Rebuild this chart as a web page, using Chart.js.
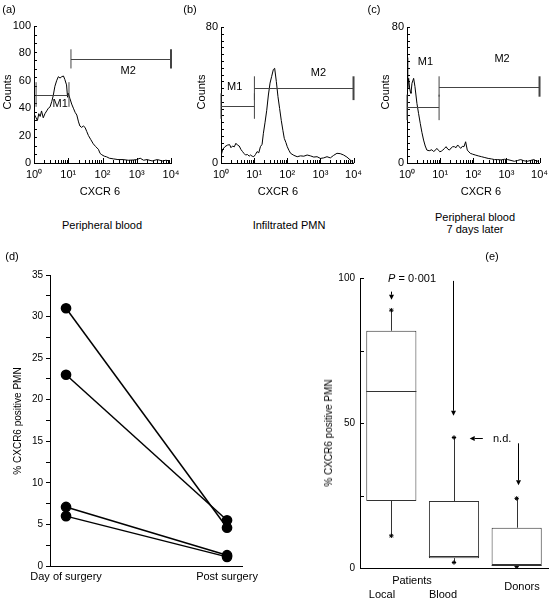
<!DOCTYPE html>
<html>
<head>
<meta charset="utf-8">
<script src="https://cdn.jsdelivr.net/npm/chart.js@4.4.1/dist/chart.umd.min.js"></script>
<style>
body{margin:0;background:#fff;width:553px;height:601px;overflow:hidden;position:relative;font-family:"Liberation Sans",Arial,sans-serif;color:#000}
canvas{position:absolute}
.t{position:absolute;font-size:11px;white-space:nowrap;line-height:1}
.c{transform:translate(-50%,-50%)}
.l{transform:translate(0,-50%)}
.r{transform:translate(-50%,-50%) rotate(-90deg)}
</style>
</head>
<body>
<canvas id="ca" width="185" height="200" style="left:0;top:0"></canvas>
<canvas id="cb" width="182" height="200" style="left:185px;top:0"></canvas>
<canvas id="cc" width="186" height="200" style="left:367px;top:0"></canvas>
<canvas id="cd" width="270" height="341" style="left:0;top:260px"></canvas>
<canvas id="ce" width="273" height="341" style="left:280px;top:260px"></canvas>

<div class="t c" style="left:9px;top:9px">(a)</div>
<div class="t c" style="left:190px;top:9px">(b)</div>
<div class="t c" style="left:374px;top:9px">(c)</div>
<div class="t r" style="left:7px;top:92px">Counts</div>
<div class="t r" style="left:201px;top:92px">Counts</div>
<div class="t r" style="left:385px;top:92px">Counts</div>
<div class="t c" style="left:100px;top:191px">CXCR 6</div>
<div class="t c" style="left:278px;top:191px">CXCR 6</div>
<div class="t c" style="left:481px;top:191px">CXCR 6</div>
<div class="t c" style="left:102px;top:225px">Peripheral blood</div>
<div class="t c" style="left:289px;top:225px">Infiltrated PMN</div>
<div class="t c" style="left:475px;top:217px">Peripheral blood</div>
<div class="t c" style="left:475px;top:229px">7 days later</div>

<div class="t c" style="left:12px;top:256px">(d)</div>
<div class="t r" style="left:18px;top:421px;font-size:10px">% CXCR6 positive PMN</div>

<div class="t c" style="left:492px;top:256px">(e)</div>
<div class="t r" style="left:329px;top:433px;font-size:10px">% CXCR6 positive PMN</div>
<div class="t l" style="left:388px;top:278px"><i>P</i> = 0·001</div>
<div class="t l" style="left:493px;top:438px">n.d.</div>
<div class="t c" style="left:412px;top:580px">Patients</div>
<div class="t c" style="left:382px;top:594px">Local</div>
<div class="t c" style="left:443px;top:594px">Blood</div>
<div class="t c" style="left:522px;top:586px">Donors</div>

<script>
// (a) peripheral blood histogram: x as log10 of CXCR6 intensity
const aLogX = [0.02,0.06,0.1,0.14,0.18,0.22,0.27,0.32,0.37,0.42,0.47,0.52,0.56,0.61,0.66,0.71,0.76,0.81,0.86,0.9,0.95,0.98,1.0,1.05,1.1,1.15,1.2,1.25,1.3,1.34,1.39,1.44,1.49,1.54,1.59,1.66,1.73,1.8,1.88,1.93,1.98,2.05,2.12,2.2,2.32,2.45,2.6,2.75,2.9,3.0,3.1,3.2,3.3,3.45,3.6,3.75,3.85,3.97]
const aCounts = [35,33,31,36,34,38,33,36,38,40,41,45,49,56,60,63,62,63,63.5,61,57,48,51,47,43,40,37,35,30,27,26,27,26,23,20,17,14,12,10,7,6,5,4.5,3.5,3,2.5,2.5,2,2.2,2.5,3.5,2,2.5,1.5,2.5,1.5,2,1.5]
const aGates = [
  {name:'M1', from:1.15, to:10.5, level:50, half:9, labelX:5.8, labelY:43},
  {name:'M2', from:12, to:10000, level:76, half:7, labelX:560, labelY:67}
]

// (b) infiltrated PMN
const bLogX = [0.0,0.05,0.12,0.19,0.26,0.3,0.35,0.4,0.45,0.5,0.55,0.6,0.65,0.7,0.74,0.8,0.85,0.89,0.94,0.99,1.04,1.09,1.14,1.19,1.24,1.28,1.33,1.38,1.43,1.48,1.53,1.58,1.62,1.67,1.72,1.77,1.82,1.87,1.91,1.96,2.0,2.05,2.1,2.2,2.3,2.4,2.5,2.6,2.7,2.8,2.9,3.0,3.1,3.2,3.3,3.4,3.5,3.6,3.7,3.8,3.9,4.0]
const bCounts = [4,8,9.6,10.5,10.8,9,10,9.5,11.6,10.5,10,8,6.7,5.5,4.7,5,4,4.7,4,3.7,5,6.7,6,9.6,11,17.5,24,31,40,47,51,55,55.7,48,39,32,25,19,14.5,12,9.6,7.5,5.7,4.5,3.7,4.2,4,4.7,4.2,3.5,3.7,2.7,3,3.7,3,4.5,5.7,5.5,4.7,3.5,1.8,0.3]
const bGates = [
  {name:'M1', from:1, to:10.2, level:33.5, half:7.5, labelX:2.6, labelY:45},
  {name:'M2', from:10.2, to:10000, level:44, half:7, labelX:870, labelY:53}
]

// (c) peripheral blood 7 days later
const cLogX = [0.0,0.02,0.05,0.08,0.1,0.12,0.15,0.2,0.24,0.3,0.35,0.4,0.45,0.5,0.55,0.6,0.67,0.75,0.8,0.84,0.9,0.95,0.99,1.04,1.08,1.13,1.18,1.23,1.28,1.33,1.38,1.43,1.48,1.53,1.58,1.62,1.67,1.72,1.77,1.82,1.87,1.91,1.98,2.06,2.15,2.25,2.35,2.45,2.55,2.64,2.74,2.84,2.94,3.04,3.14,3.24,3.34,3.43,3.53,3.63,3.73,3.83,3.9,3.98]
const cCounts = [62,44,49.8,44,42,41,46.9,49.8,45,35,29,23.3,18,13.5,10,7.6,7.2,7.8,6.8,7.2,8.6,7.5,6.6,7,7.6,8.5,9.6,8.2,7.6,8.8,9.6,9.6,9,10.6,9.5,8.6,9.8,9.6,12.5,7.6,6.5,5.7,5.2,4.7,4.2,3.7,3.2,2.7,2.4,2,2,1.8,2.2,2,1.5,1,1.5,2,1.3,1,1.5,2,1.2,1]
const cGates = [
  {name:'M1', from:1, to:9.3, level:32.7, half:7.5, labelX:3.6, labelY:59.6},
  {name:'M2', from:9.3, to:10000, level:45, half:6, labelX:740, labelY:61}
]

// (d) paired patients
const surgeryCats = ['Day of surgery', 'Post surgery']
const daySurgery = [31, 23, 7.1, 6.0]
const postSurgery = [4.6, 5.5, 1.3, 1.1]

// (e) box plots
const boxGroups = ['Local', 'Blood', 'Donors']
const boxLow = [11.1, 1.9, 0.5]
const boxQ1 = [23.1, 3.4, 1.0]
const boxMedian = [61, 4.0, 1.1]
const boxQ3 = [81.8, 23.1, 13.9]
const boxHigh = [88.9, 45, 24]
const boxMean = [54.7, 12.9, 6.5]
const downArrows = [{x:0, from:95.3, to:92.5}, {x:0.99, from:99, to:52.5}, {x:2.02, from:43, to:28.5}]
const ndArrow = {y:44.7, from:1.46, to:1.25}

Chart.defaults.font.family = '"Liberation Sans", Arial, sans-serif'
Chart.defaults.font.size = 11
Chart.defaults.color = '#000'

const sup = ['\u2070', '\u00b9', '\u00b2', '\u00b3', '\u2074']

const histExtras = {
  id: 'histExtras',
  afterDraw(chart, args, o) {
    const ctx = chart.ctx, xs = chart.scales.x, ys = chart.scales.y, a = chart.chartArea
    ctx.save()
    ctx.strokeStyle = '#000'
    ctx.lineWidth = 1
    ctx.beginPath()
    for (let d = 0; d <= 4; d++) {
      for (let m = 1; m <= 9; m++) {
        if (d === 4 && m > 1) break
        const px = Math.round(xs.getPixelForValue(m * Math.pow(10, d))) + 0.5
        const len = m === 1 ? 5 : 3
        ctx.moveTo(px, a.bottom)
        ctx.lineTo(px, a.bottom - len)
      }
    }
    for (let v = 0; v <= ys.max + 0.01; v += o.yStep) {
      const py = Math.round(ys.getPixelForValue(v)) + 0.5
      ctx.moveTo(a.left, py)
      ctx.lineTo(a.left + 3, py)
    }
    ctx.stroke()
    ctx.strokeStyle = '#444'
    ctx.fillStyle = '#000'
    ctx.font = '11px "Liberation Sans", Arial, sans-serif'
    ctx.textAlign = 'center'
    ctx.textBaseline = 'middle'
    o.gates.forEach(g => {
      const x1 = xs.getPixelForValue(g.from), x2 = xs.getPixelForValue(g.to)
      const yl = Math.round(ys.getPixelForValue(g.level)) + 0.5
      const yt = ys.getPixelForValue(g.level + g.half), yb = ys.getPixelForValue(g.level - g.half)
      ctx.lineWidth = 1
      ctx.beginPath()
      ctx.moveTo(x1, yl); ctx.lineTo(x2, yl)
      ctx.moveTo(x1, yt); ctx.lineTo(x1, yb)
      ctx.stroke()
      ctx.lineWidth = g.to >= 10000 ? 2 : 1
      ctx.beginPath()
      ctx.moveTo(x2, yt); ctx.lineTo(x2, yb)
      ctx.stroke()
      ctx.fillText(g.name, xs.getPixelForValue(g.labelX), ys.getPixelForValue(g.labelY))
    })
    ctx.restore()
  }
}

function makeHist(id, logX, counts, yMax, yLabels, yStep, gates, yWidth, padTop, padRight, xHeight) {
  const pts = logX.map((lx, i) => ({x: Math.pow(10, lx), y: counts[i]}))
  return new Chart(document.getElementById(id), {
    type: 'line',
    data: {datasets: [{data: pts, borderColor: '#000', borderWidth: 1, pointRadius: 0, tension: 0, fill: false}]},
    options: {
      responsive: false, animation: false, devicePixelRatio: 1, events: [],
      layout: {padding: {top: padTop, right: padRight, left: 0, bottom: 0}},
      plugins: {legend: {display: false}, tooltip: {enabled: false}, histExtras: {yStep: yStep, gates: gates}},
      scales: {
        x: {
          type: 'logarithmic', min: 1, max: 10000,
          afterBuildTicks: s => { s.ticks = [1, 10, 100, 1000, 10000].map(v => ({value: v})) },
          ticks: {callback: v => '10' + sup[Math.round(Math.log10(v))], padding: 5, maxRotation: 0, autoSkip: false},
          grid: {drawOnChartArea: false, drawTicks: false, color: '#000'},
          border: {color: '#000'},
          afterFit: s => { s.height = xHeight }
        },
        y: {
          min: 0, max: yMax,
          afterBuildTicks: s => { s.ticks = yLabels.map(v => ({value: v})) },
          ticks: {padding: 3},
          grid: {drawOnChartArea: false, drawTicks: false, color: '#000'},
          border: {color: '#000'},
          afterFit: s => { s.width = yWidth }
        }
      }
    },
    plugins: [histExtras]
  })
}

makeHist('ca', aLogX, aCounts, 100, [0, 20, 40, 60, 80, 100], 6.25, aGates, 34, 26, 14, 37)
makeHist('cb', bLogX, bCounts, 80, [0, 80], 4, bGates, 36, 27, 10, 37)
makeHist('cc', cLogX, cCounts, 80, [0, 80], 4, cGates, 40, 27, 9, 37)

// (d)
new Chart(document.getElementById('cd'), {
  type: 'line',
  data: {
    datasets: daySurgery.map((v, i) => ({
      data: [{x: 0, y: v}, {x: 1, y: postSurgery[i]}],
      borderColor: '#000', backgroundColor: '#000', borderWidth: 1.5,
      pointRadius: 4.6, pointHoverRadius: 4.6
    }))
  },
  options: {
    responsive: false, animation: false, devicePixelRatio: 1, events: [],
    layout: {padding: {top: 15, right: 28, left: 0, bottom: 0}},
    plugins: {legend: {display: false}, tooltip: {enabled: false}},
    scales: {
      x: {
        type: 'linear', min: -0.0996, max: 1.093,
        afterBuildTicks: s => { s.ticks = [{value: 0}, {value: 1}] },
        ticks: {callback: v => surgeryCats[v], padding: 4, maxRotation: 0, autoSkip: false},
        grid: {drawOnChartArea: false, drawTicks: false, color: '#000'},
        border: {color: '#000'},
        afterFit: s => { s.height = 35 }
      },
      y: {
        min: 0, max: 35,
        ticks: {stepSize: 2.5, callback: v => (v % 5 === 0 ? v : ''), padding: 3, font: {size: 10}},
        grid: {drawOnChartArea: false, tickLength: 4, color: '#000'},
        border: {color: '#000'},
        afterFit: s => { s.width = 50 }
      }
    }
  }
})

// (e)
function arrow(ctx, x1, y1, x2, y2) {
  const ang = Math.atan2(y2 - y1, x2 - x1), L = 5, W = 2.5
  ctx.beginPath()
  ctx.moveTo(x1, y1)
  ctx.lineTo(x2 - L * Math.cos(ang), y2 - L * Math.sin(ang))
  ctx.stroke()
  ctx.beginPath()
  ctx.moveTo(x2, y2)
  ctx.lineTo(x2 - L * Math.cos(ang) - W * Math.sin(ang), y2 - L * Math.sin(ang) + W * Math.cos(ang))
  ctx.lineTo(x2 - L * Math.cos(ang) + W * Math.sin(ang), y2 - L * Math.sin(ang) - W * Math.cos(ang))
  ctx.closePath()
  ctx.fill()
}

const boxExtras = {
  id: 'boxExtras',
  beforeDatasetsDraw(chart) {
    const ctx = chart.ctx, xs = chart.scales.x, ys = chart.scales.y
    ctx.save()
    ctx.strokeStyle = '#333'
    ctx.lineWidth = 1
    ctx.beginPath()
    boxGroups.forEach((g, i) => {
      const px = Math.round(xs.getPixelForValue(i)) + 0.5
      ctx.moveTo(px, ys.getPixelForValue(boxQ3[i])); ctx.lineTo(px, ys.getPixelForValue(boxHigh[i]))
      ctx.moveTo(px, ys.getPixelForValue(boxQ1[i])); ctx.lineTo(px, ys.getPixelForValue(boxLow[i]))
    })
    ctx.stroke()
    ctx.restore()
  },
  afterDatasetsDraw(chart) {
    const ctx = chart.ctx, ys = chart.scales.y
    const bars = chart.getDatasetMeta(0).data
    ctx.save()
    ctx.strokeStyle = '#333'
    ctx.lineWidth = 1
    ctx.beginPath()
    bars.forEach((b, i) => {
      const py = Math.round(ys.getPixelForValue(boxMedian[i])) + 0.5
      ctx.moveTo(b.x - b.width / 2, py); ctx.lineTo(b.x + b.width / 2, py)
    })
    ctx.stroke()
    ctx.restore()
  },
  afterDraw(chart) {
    const ctx = chart.ctx, xs = chart.scales.x, ys = chart.scales.y, a = chart.chartArea
    ctx.save()
    ctx.strokeStyle = '#000'
    ctx.fillStyle = '#000'
    ctx.lineWidth = 1
    ctx.beginPath()
    ;[0, 25, 50, 75, 100].forEach(v => {
      const py = Math.round(ys.getPixelForValue(v)) + 0.5
      ctx.moveTo(a.left, py); ctx.lineTo(a.left + 4, py)
    })
    ctx.stroke()
    downArrows.forEach(d => {
      const px = Math.round(xs.getPixelForValue(d.x)) + 0.5
      arrow(ctx, px, ys.getPixelForValue(d.from), px, ys.getPixelForValue(d.to))
    })
    const ny = Math.round(ys.getPixelForValue(ndArrow.y)) + 0.5
    arrow(ctx, xs.getPixelForValue(ndArrow.from), ny, xs.getPixelForValue(ndArrow.to), ny)
    ctx.restore()
  }
}

new Chart(document.getElementById('ce'), {
  type: 'bar',
  data: {
    labels: boxGroups,
    datasets: [
      {type: 'bar', data: boxGroups.map((g, i) => [boxQ1[i], boxQ3[i]]), backgroundColor: '#fff',
       borderColor: '#333', borderWidth: 1, borderSkipped: false, barPercentage: 0.8, categoryPercentage: 1},
      {type: 'line', data: boxMean, showLine: false, pointRadius: 1.6, backgroundColor: '#000', borderColor: '#000'},
      {type: 'line', data: boxHigh, showLine: false, pointStyle: 'star', pointRadius: 2.2, borderColor: '#000', borderWidth: 1},
      {type: 'line', data: boxLow, showLine: false, pointStyle: 'star', pointRadius: 2.2, borderColor: '#000', borderWidth: 1}
    ]
  },
  options: {
    responsive: false, animation: false, devicePixelRatio: 1, events: [],
    layout: {padding: {top: 18, right: 0, left: 0, bottom: 0}},
    plugins: {legend: {display: false}, tooltip: {enabled: false}},
    scales: {
      x: {
        ticks: {display: false},
        grid: {drawOnChartArea: false, drawTicks: false, color: '#000'},
        border: {color: '#000'},
        afterFit: s => { s.height = 33 }
      },
      y: {
        min: 0, max: 100,
        ticks: {stepSize: 50, padding: 5, font: {size: 10}},
        grid: {drawOnChartArea: false, drawTicks: false, color: '#000'},
        border: {color: '#000'},
        afterFit: s => { s.width = 80 }
      }
    }
  },
  plugins: [boxExtras]
})
</script>
</body>
</html>
